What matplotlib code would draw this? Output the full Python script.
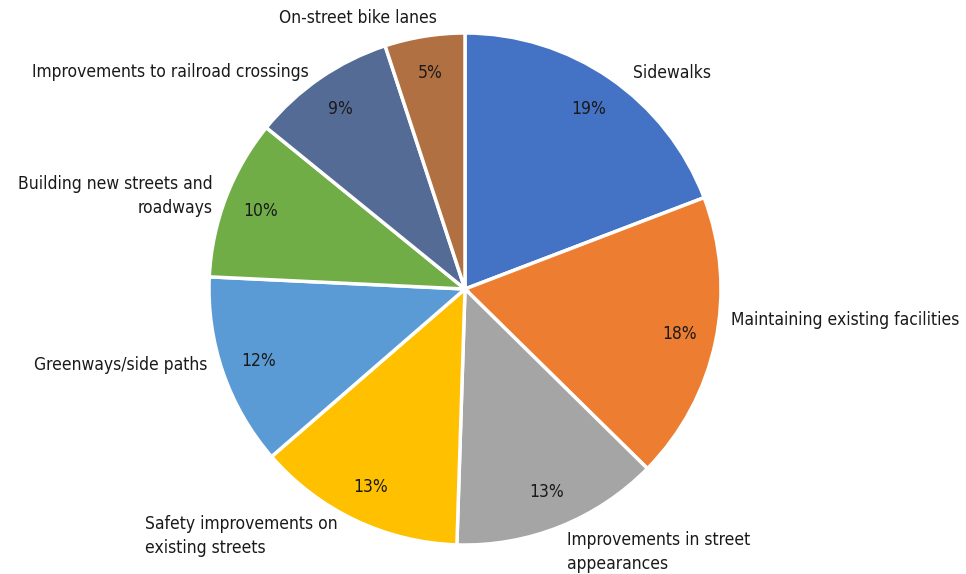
import matplotlib
matplotlib.use("Agg")
import matplotlib.pyplot as plt

categories = [
    "Sidewalks",
    "Maintaining existing facilities",
    "Improvements in street\nappearances",
    "Safety improvements on\nexisting streets",
    "Greenways/side paths",
    "Building new streets and\nroadways",
    "Improvements to railroad crossings",
    "On-street bike lanes",
]
shares = [19, 18, 13, 13, 12, 10, 9, 5]
colors = ["#4472C4", "#ED7D31", "#A5A5A5", "#FFC000",
          "#5B9BD5", "#70AD47", "#546C95", "#B07042"]

# category label placement (pixel coords, alignment)
label_pos = [
    (672, 73, "center", "center"),
    (731, 320, "left", "center"),
    (567, 552, "left", "center"),
    (145, 536, "left", "center"),
    (207, 365, "right", "center"),
    (213, 196, "right", "center"),
    (309, 72, "right", "center"),
    (358, 18, "center", "center"),
]

plt.rcParams["font.family"] = ["DejaVu Sans"]
plt.rcParams["font.stretch"] = "condensed"

W, H = 966, 574
fig = plt.figure(figsize=(W / 100, H / 100), dpi=100)
cx, cy, r = 465, 574 - 289, 256
ax = fig.add_axes([(cx - r) / W, (cy - r) / H, 2 * r / W, 2 * r / H])

wedges, _, autotexts = ax.pie(
    shares, colors=colors, startangle=90, counterclock=False, radius=1,
    autopct=lambda p: "", pctdistance=0.855,
    wedgeprops=dict(edgecolor="white", linewidth=2.5),
)
ax.set_xlim(-1, 1)
ax.set_ylim(-1, 1)
ax.set_aspect("equal")
ax.axis("off")
for t, v in zip(autotexts, shares):
    t.set_text(f"{v}%")
    t.set_fontsize(12.5)
    t.set_color("#1a1a1a")

for text, (x, y, ha, va) in zip(categories, label_pos):
    fig.text(x / W, 1 - y / H, text, ha=ha, va=va, fontsize=12.5,
             color="#1a1a1a", multialignment=ha if ha != "center" else "center",
             linespacing=1.45)

fig.savefig("out.png", dpi=100)
